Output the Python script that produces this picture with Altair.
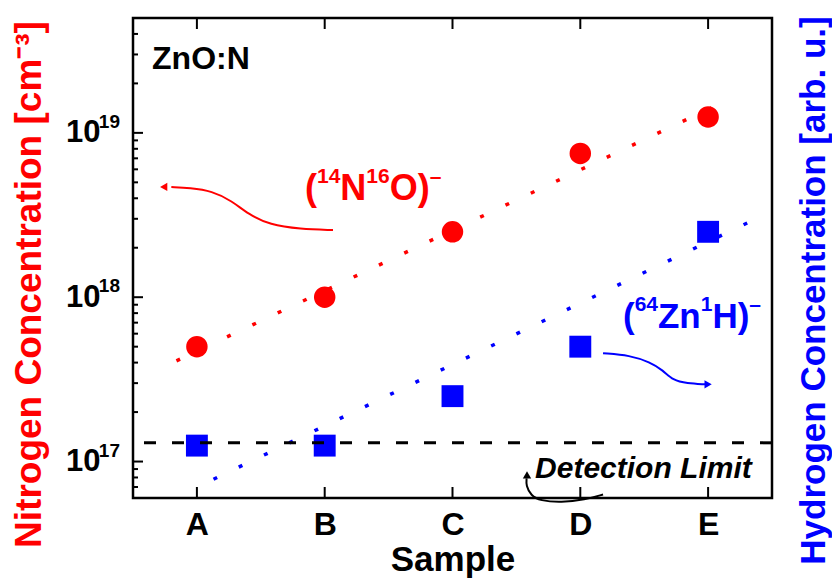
import altair as alt
import pandas as pd

# ---------------- data ----------------
samples = ["A", "B", "C", "D", "E"]
sample_pos = [1, 2, 3, 4, 5]
nitrogen = [5.0e17, 1.0e18, 2.5e18, 7.5e18, 1.25e19]
hydrogen = [1.25e17, 1.25e17, 2.5e17, 5.0e17, 2.5e18]
detection_limit = [1.3e17]

n_fit_x = [0.84, 5.09]
n_fit_y = [4.1e17, 1.5e19]
h_fit_x = [1.13, 5.45]
h_fit_y = [7.8e16, 3.2e18]

major_ticks = [1e17, 1e18, 1e19]
major_exp = ["17", "18", "19"]
minor_ticks = [6e16, 7e16, 8e16, 9e16,
               2e17, 3e17, 4e17, 5e17, 6e17, 7e17, 8e17, 9e17,
               2e18, 3e18, 4e18, 5e18, 6e18, 7e18, 8e18, 9e18,
               2e19, 3e19, 4e19]

# annotation curves (data units)
red_arrow_x = [2.065, 1.807, 1.572, 1.400, 1.275, 1.118, 0.946, 0.80]
red_arrow_y = [2.56e18, 2.60e18, 2.75e18, 3.21e18, 3.85e18, 4.43e18, 4.62e18, 4.68e18]
blue_arrow_x = [4.178, 4.389, 4.545, 4.647, 4.725, 4.835, 4.976]
blue_arrow_y = [4.56e17, 4.43e17, 4.02e17, 3.59e17, 3.12e17, 2.99e17, 2.95e17]
black_arrow_x = [4.178, 4.037, 3.849, 3.685, 3.614, 3.575, 3.580]
black_arrow_y = [6.3e16, 5.86e16, 5.62e16, 5.78e16, 6.21e16, 7.14e16, 7.9e16]
head_x = [0.74, 5.00, 3.583]
head_y = [4.69e18, 2.95e17, 8.3e16]
head_shape = ["triangle-left", "triangle-right", "triangle-up"]
head_color = ["#FF0000", "#0000FF", "#000000"]

RED = "#FF0000"
BLUE = "#0000FF"
FONT = "Liberation Sans"
W, H = 639, 480

xscale = alt.Scale(domain=[0.5, 5.5], zero=False, nice=False)
yscale = alt.Scale(type="log", domain=[6e16, 5e19], nice=False)

def X(field, axis=None):
    return alt.X(field, type="quantitative", scale=xscale, axis=axis)

def Y(field, axis=None):
    return alt.Y(field, type="quantitative", scale=yscale, axis=axis)

df = pd.DataFrame({"x": sample_pos, "s": samples, "n": nitrogen, "h": hydrogen})

x_axis = alt.Axis(values=sample_pos, labelExpr="['','A','B','C','D','E'][datum.value]",
                  grid=False, ticks=False, tickSize=0, domain=False,
                  labelFontSize=32, labelFontWeight="bold", labelColor="black",
                  labelPadding=11, title="Sample", titleFontSize=35,
                  titleFontWeight="bold", titleColor="black", titlePadding=2)
left_axis = alt.Axis(values=major_ticks, labelExpr="'10'", grid=False, ticks=False,
                     tickSize=0, domain=False, labelFontSize=31, labelFontWeight="bold",
                     labelColor="black", labelPadding=33,
                     title="Nitrogen Concentration [cm⁻³]", titleColor=RED,
                     titleFontSize=37, titleFontWeight="bold", titleAngle=270,
                     titleX=-104, titleY=266, titleBaseline="middle")
right_axis = alt.Axis(orient="right", labels=False, ticks=False, domain=False, grid=False,
                      title="Hydrogen Concentration [arb. u.]", titleColor=BLUE,
                      titleFontSize=35, titleFontWeight="bold", titleAngle=270,
                      titleX=41, titleY=272, titleBaseline="middle")

red_pts = alt.Chart(df).mark_point(shape="circle", filled=True, opacity=1, size=460,
                                   color=RED).encode(x=X("x", x_axis), y=Y("n", left_axis))
blue_pts = alt.Chart(df).mark_point(shape="square", filled=True, opacity=1, size=480,
                                    color=BLUE).encode(x=X("x"), y=Y("h", right_axis))

n_fit = alt.Chart(pd.DataFrame({"x": n_fit_x, "y": n_fit_y})).mark_line(
    color=RED, strokeWidth=3.5, strokeDash=[4, 24]).encode(x=X("x"), y=Y("y"))
h_fit = alt.Chart(pd.DataFrame({"x": h_fit_x, "y": h_fit_y})).mark_line(
    color=BLUE, strokeWidth=3.5, strokeDash=[4, 24]).encode(x=X("x"), y=Y("y"))

det = alt.Chart(pd.DataFrame({"y": detection_limit})).mark_rule(
    color="black", strokeWidth=3, strokeDash=[12, 16]).encode(y=Y("y"))

# inward ticks
maj = alt.Chart(pd.DataFrame({"y": major_ticks})).mark_rule(color="black", strokeWidth=2).encode(
    y=Y("y"), x=alt.value(0), x2=alt.value(10))
mnr = alt.Chart(pd.DataFrame({"y": minor_ticks})).mark_rule(color="black", strokeWidth=2).encode(
    y=Y("y"), x=alt.value(0), x2=alt.value(5))
xt_bot = alt.Chart(pd.DataFrame({"x": sample_pos})).mark_rule(color="black", strokeWidth=2).encode(
    x=X("x"), y=alt.value(H), y2=alt.value(H - 11))
xt_top = alt.Chart(pd.DataFrame({"x": sample_pos})).mark_rule(color="black", strokeWidth=2).encode(
    x=X("x"), y=alt.value(0), y2=alt.value(11))

exps = alt.Chart(pd.DataFrame({"y": major_ticks, "t": major_exp})).mark_text(
    align="right", baseline="alphabetic", dy=-5, fontSize=19, fontWeight="bold",
    color="black").encode(y=Y("y"), x=alt.value(-13), text="t:N")

# text annotations
def text_piece(x, y, t, dx, dy, size, color, style="normal"):
    return alt.Chart(pd.DataFrame({"x": [x], "y": [y], "t": [t]})).mark_text(
        align="left", baseline="alphabetic", dx=dx, dy=dy, fontSize=size,
        fontWeight="bold", fontStyle=style, color=color).encode(
        x=X("x"), y=Y("y"), text="t:N")

# Liberation Sans Bold advance widths (em)
ADV = {"(": 0.333, ")": 0.333, "N": 0.722, "O": 0.778, "Z": 0.611, "n": 0.611,
       "H": 0.722, "1": 0.556, "4": 0.556, "6": 0.556, "–": 0.556}

def formula(x, y, parts, color, main=36, sup=21, raise_=17):
    layers = []
    off = 0.0
    for t, is_sup in parts:
        size = sup if is_sup else main
        layers.append(text_piece(x, y, t, off, -raise_ if is_sup else 0, size, color))
        off += sum(ADV.get(c, 0.6) for c in t) * size
    return layers

red_label = formula(1.846, 3.9e18, [("(", False), ("14", True), ("N", False), ("16", True),
                                     ("O)", False), ("–", True)], RED)
blue_label = formula(4.334, 6.47e17, [("(", False), ("64", True), ("Zn", False), ("1", True),
                                       ("H)", False), ("–", True)], BLUE, main=35)

zno = text_piece(0.649, 2.46e19, "ZnO:N", 0, 0, 32, "black")
detlab = text_piece(3.646, 7.98e16, "Detection Limit", 0, 0, 30, "black", "italic")

def curve(xs, ys, color):
    return alt.Chart(pd.DataFrame({"x": xs, "y": ys, "i": list(range(len(xs)))})).mark_line(
        color=color, strokeWidth=2, interpolate="basis").encode(x=X("x"), y=Y("y"), order="i:Q")

arrows = [curve(red_arrow_x, red_arrow_y, RED), curve(blue_arrow_x, blue_arrow_y, BLUE),
          curve(black_arrow_x, black_arrow_y, "black")]
heads = alt.Chart(pd.DataFrame({"x": head_x, "y": head_y, "s": head_shape, "c": head_color})).mark_point(
    filled=True, opacity=1, size=70).encode(
    x=X("x"), y=Y("y"), shape=alt.Shape("s:N", scale=None), color=alt.Color("c:N", scale=None))

chart = alt.layer(
    red_pts, blue_pts, n_fit, h_fit, det, maj, mnr, xt_bot, xt_top, exps,
    *red_label, *blue_label, zno, detlab, *arrows, heads
).resolve_axis(x="independent", y="independent").properties(
    width=W, height=H, autosize=alt.AutoSizeParams(type="none"),
    padding={"left": 125, "top": 10, "right": 60, "bottom": 84}
).configure(font=FONT).configure_view(stroke="black", strokeWidth=2.5)

chart.save("out.html", embed_options={"renderer": "svg", "actions": False})
